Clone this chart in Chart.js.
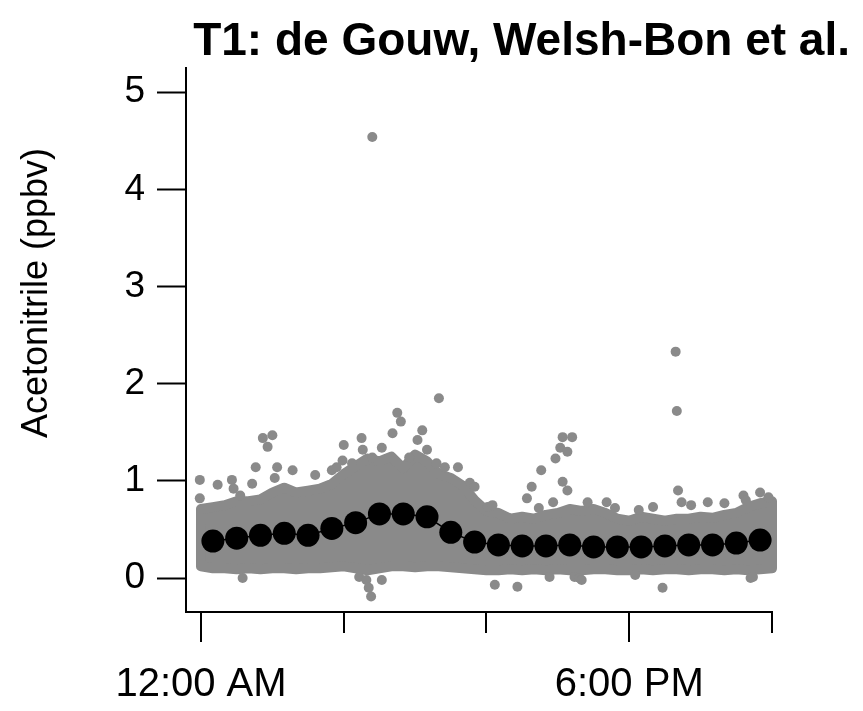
<!DOCTYPE html>
<html>
<head>
<meta charset="utf-8">
<script src="https://cdn.jsdelivr.net/npm/chart.js@4/dist/chart.umd.min.js"></script>
<style>
html,body{margin:0;padding:0;background:#ffffff;}
#wrap{width:863px;height:711px;position:relative;}
</style>
</head>
<body>
<div id="wrap"><canvas id="c" width="863" height="711"></canvas></div>
<script>
// ---- chart text ----
const titleText = 'T1: de Gouw, Welsh-Bon et al.';
const yAxisTitle = 'Acetonitrile (ppbv)';

// ---- ticks ----
const xTickValues = [0, 6, 12, 18, 24];            // hours of day
const xTickLabels = ['12:00 AM', '', '', '6:00 PM', ''];
const yTickValues = [0, 1, 2, 3, 4, 5];

// ---- hourly means (black dots) ----
const meanHours  = [0.5, 1.5, 2.5, 3.5, 4.5, 5.5, 6.5, 7.5, 8.5, 9.5, 10.5, 11.5,
                    12.5, 13.5, 14.5, 15.5, 16.5, 17.5, 18.5, 19.5, 20.5, 21.5, 22.5, 23.5];
const meanValues = [0.38, 0.41, 0.44, 0.46, 0.44, 0.51, 0.57, 0.66, 0.66, 0.63, 0.47, 0.37,
                    0.34, 0.33, 0.33, 0.34, 0.32, 0.32, 0.32, 0.33, 0.34, 0.34, 0.36, 0.39];

// ---- dense cloud of individual measurements: upper / lower extent of the bulk ----
const bandHours = [0, 0.5, 1, 1.5, 2, 2.5, 3, 3.5, 4, 4.5, 5, 5.5, 6, 6.5, 7, 7.5, 8, 8.5,
                   9, 9.5, 10, 10.5, 11, 11.5, 12, 12.5, 13, 13.5, 14, 14.5, 15, 15.5, 16,
                   16.5, 17, 17.5, 18, 18.5, 19, 19.5, 20, 20.5, 21, 21.5, 22, 22.5, 23, 23.5, 24];
const bandUpper = [0.71, 0.73, 0.75, 0.79, 0.79, 0.81, 0.88, 0.93, 0.88, 0.90, 0.92, 0.97,
                   1.07, 1.15, 1.23, 1.20, 1.25, 1.13, 1.27, 1.20, 1.07, 1.03, 0.95, 0.80,
                   0.69, 0.67, 0.61, 0.63, 0.61, 0.65, 0.67, 0.71, 0.69, 0.71, 0.67, 0.61,
                   0.59, 0.63, 0.61, 0.59, 0.61, 0.61, 0.63, 0.62, 0.65, 0.67, 0.73, 0.77, 0.79];
const bandLower = [0.12, 0.10, 0.10, 0.09, 0.10, 0.09, 0.10, 0.10, 0.09, 0.10, 0.10, 0.11,
                   0.12, 0.10, 0.08, 0.10, 0.12, 0.12, 0.11, 0.12, 0.12, 0.11, 0.10, 0.09,
                   0.08, 0.08, 0.09, 0.08, 0.09, 0.08, 0.09, 0.08, 0.08, 0.09, 0.09, 0.08,
                   0.08, 0.09, 0.08, 0.09, 0.09, 0.08, 0.09, 0.09, 0.08, 0.09, 0.08, 0.09, 0.10];

// ---- individual measurements standing out of the bulk ----
const pointHours  = [-0.05, -0.05, 0.7, 1.3, 1.37, 1.65, 2.15, 2.3, 2.6, 2.8, 3.0, 3.1, 3.2,
                     3.85, 4.8, 5.5, 5.7, 5.95, 6.0, 6.35, 6.75, 6.8, 7.2, 7.2, 7.6, 8.05,
                     8.25, 8.4, 8.75, 9.1, 9.3, 9.5, 9.9, 10.0, 10.25, 10.8, 11.3, 11.5,
                     12.05, 12.25, 13.7, 13.9, 14.2, 14.3, 14.8, 14.9, 15.1, 15.2, 15.2, 15.4,
                     15.4, 15.6, 16.25, 17.05, 17.4, 18.4, 19.0, 19.95, 20.0, 20.05, 20.2,
                     20.6, 21.3, 22.0, 22.8, 22.9, 23.5, 23.85,
                     1.75, 6.65, 6.95, 7.05, 7.15, 7.6, 12.35, 13.3, 14.65, 15.7, 15.9, 16.0,
                     18.25, 19.4, 23.1, 23.2];
const pointValues = [1.01, 0.82, 0.96, 1.01, 0.92, 0.85, 0.97, 1.14, 1.44, 1.35, 1.47, 1.03, 1.14,
                     1.11, 1.06, 1.11, 1.14, 1.21, 1.37, 1.18, 1.44, 1.32, 1.24, 4.54, 1.34, 1.49,
                     1.70, 1.61, 1.24, 1.42, 1.52, 1.32, 1.18, 1.85, 1.14, 1.14, 0.98, 0.94,
                     0.73, 0.75, 0.82, 0.94, 0.72, 1.11, 0.78, 1.23, 1.34, 1.45, 0.99, 0.90,
                     1.30, 1.45, 0.78, 0.78, 0.72, 0.70, 0.73, 2.33, 1.72, 0.90, 0.78,
                     0.75, 0.78, 0.77, 0.85, 0.80, 0.88, 0.83,
                     0.00, 0.01, -0.02, -0.10, -0.19, -0.02, -0.07, -0.09, 0.01, 0.01, 0.00, -0.02,
                     0.03, -0.10, 0.00, 0.01];

// ---- build tables the library needs ----
const FONT = '"Liberation Sans", Arial, Helvetica, sans-serif';
const GRAY = '#8a8a8a';

const bandPolygon = [];
for (let i = 0; i < bandHours.length; i++) bandPolygon.push({x: bandHours[i], y: bandUpper[i]});
for (let i = bandHours.length - 1; i >= 0; i--) bandPolygon.push({x: bandHours[i], y: bandLower[i]});
bandPolygon.push({x: bandHours[0], y: bandUpper[0]});

const pointData = pointHours.map((h, i) => ({x: h, y: pointValues[i]}));
const meanData = meanHours.map((h, i) => ({x: h, y: meanValues[i]}));

// ---- plugin: titles and x tick marks ----
const decorations = {
  id: 'decorations',
  afterDraw(chart) {
    const ctx = chart.ctx;
    const xs = chart.scales.x;
    ctx.save();
    ctx.strokeStyle = '#000';
    ctx.lineWidth = 2;
    xTickValues.forEach((v, i) => {
      const px = Math.round(xs.getPixelForValue(v));
      const len = xTickLabels[i] ? 30 : 21;
      ctx.beginPath();
      ctx.moveTo(px, xs.top);
      ctx.lineTo(px, xs.top + len);
      ctx.stroke();
    });
    ctx.fillStyle = '#000';
    ctx.font = 'bold 46px ' + FONT;
    ctx.textAlign = 'right';
    ctx.textBaseline = 'alphabetic';
    ctx.fillText(titleText, 850, 55);
    ctx.font = '36px ' + FONT;
    ctx.translate(47, 293);
    ctx.rotate(-Math.PI / 2);
    ctx.textAlign = 'center';
    ctx.fillText(yAxisTitle, 0, 0);
    ctx.restore();
  }
};

new Chart(document.getElementById('c'), {
  type: 'scatter',
  data: {
    datasets: [
      {
        label: 'Hourly mean',
        data: meanData,
        showLine: true,
        borderColor: '#000',
        borderWidth: 1.5,
        backgroundColor: '#000',
        pointBackgroundColor: '#000',
        pointBorderWidth: 0,
        pointRadius: 11.5,
        clip: 12,
        order: 0
      },
      {
        label: 'Measurements',
        data: pointData,
        backgroundColor: GRAY,
        pointBackgroundColor: GRAY,
        pointBorderWidth: 0,
        pointRadius: 5,
        clip: 12,
        order: 1
      },
      {
        label: 'Measurements (bulk)',
        data: bandPolygon,
        showLine: true,
        fill: 'shape',
        backgroundColor: GRAY,
        borderColor: GRAY,
        borderWidth: 10,
        borderJoinStyle: 'round',
        borderCapStyle: 'round',
        pointRadius: 0,
        tension: 0,
        clip: 12,
        order: 2
      }
    ]
  },
  options: {
    responsive: false,
    animation: false,
    devicePixelRatio: 1,
    layout: { padding: { top: 68, right: 91, bottom: 0, left: 0 } },
    plugins: {
      legend: { display: false },
      tooltip: { enabled: false },
      title: { display: false }
    },
    scales: {
      x: {
        type: 'linear',
        min: -0.63,
        max: 24,
        afterBuildTicks(scale) { scale.ticks = xTickValues.map(v => ({value: v})); },
        afterFit(scale) { scale.height = 99; },
        grid: { display: true, drawOnChartArea: false, tickLength: 30, tickColor: 'rgba(0,0,0,0)' },
        border: { display: true, color: '#000', width: 2 },
        ticks: {
          autoSkip: false,
          maxRotation: 0,
          padding: 19,
          color: '#000',
          font: { size: 40, family: FONT },
          callback(value) {
            const i = xTickValues.indexOf(value);
            return i >= 0 ? xTickLabels[i] : '';
          }
        }
      },
      y: {
        type: 'linear',
        min: -0.35,
        max: 5.25,
        afterBuildTicks(scale) { scale.ticks = yTickValues.map(v => ({value: v})); },
        afterFit(scale) { scale.width = 186; },
        grid: { display: true, drawOnChartArea: false, tickLength: 29, tickColor: '#000', tickWidth: 2 },
        border: { display: true, color: '#000', width: 2 },
        ticks: {
          padding: 12,
          color: '#000',
          font: { size: 37, family: FONT },
          callback(value) { return String(value); }
        }
      }
    }
  },
  plugins: [decorations]
});
</script>
</body>
</html>
